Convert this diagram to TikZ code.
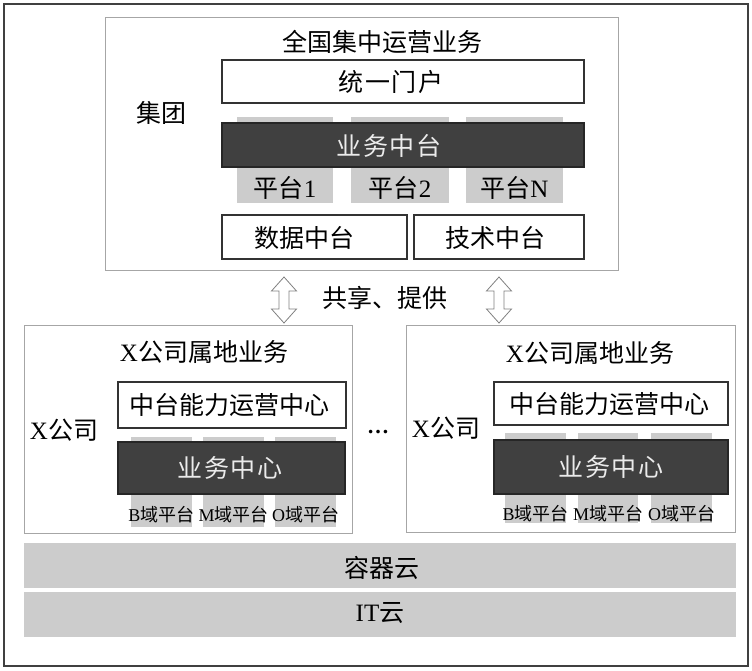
\documentclass[tikz,border=0pt]{standalone}
\usepackage{fontspec}
\usetikzlibrary{calc}
\setmainfont{Liberation Serif}
\newfontfamily\cjk{Noto Sans CJK SC}
\newfontfamily\cjksp[LetterSpace=6]{Noto Sans CJK SC}
\newcommand\lat[1]{{\rmfamily #1}}
\begin{document}
\begin{tikzpicture}[x=1pt,y=-1pt,
 outerframe/.style={draw=black!75, line width=2pt},
 frame/.style={draw=black!35, line width=1pt, fill=white},
 wbox/.style={draw=black!80, line width=1.2pt, fill=white},
 dbox/.style={draw=black!85, line width=1.3pt, fill=black!75},
 gblock/.style={fill=black!20},
 lbl/.style={font=\cjk\fontsize{25}{29}\selectfont, inner sep=0},
 wlbl/.style={font=\cjksp\fontsize{25}{29}\selectfont, inner sep=0, text=white!92!black},
 small/.style={font=\cjk\fontsize{18}{21}\selectfont, inner sep=0},
 arr/.style={draw=black!50, line width=0.8pt, fill=white}]
\path[use as bounding box] (0,0) rectangle (752,671);
\draw[outerframe] (4,4) rectangle (748,666);

% ---------- top box ----------
\draw[frame] (105,18) rectangle (618,270);
\node[lbl] (ttitle) at (382,42) {全国集中运营业务};
\node[lbl] (jt) at (161,113) {集团};
\draw[wbox] (222,60) rectangle (584,103);
\node[wlbl, text=black] (portal) at (391,82) {统一门户};
\foreach \xa/\xb/\nm/\t in {237/333/p1/{平台\lat{1}}, 351/449/p2/{平台\lat{2}}, 466/563/pn/{平台\lat{N}}}{
  \fill[gblock] (\xa,117) rectangle (\xb,203);
  \node[lbl] (\nm) at ({(\xa+\xb)/2},188) {\t};
}
\draw[dbox] (222,123) rectangle (584,167);
\node[wlbl] (ywzt) at (389,146) {业务中台};
\draw[wbox] (222,215) rectangle (407,259);
\node[lbl] (sjzt) at (304,238) {数据中台};
\draw[wbox] (414,215) rectangle (584,259);
\node[lbl] (jszt) at (495,238) {技术中台};

% ---------- arrows ----------
\coordinate (a1) at (284,300);
\coordinate (a2) at (499,300);
\foreach \c in {a1,a2}{
  \draw[arr] ($(\c)+(0,-23)$) -- ++(12.5,14) -- ++(-7.5,0) -- ++(0,18) -- ++(7.5,0)
    -- ($(\c)+(0,23)$) -- ++(-12.5,-14) -- ++(7.5,0) -- ++(0,-18) -- ++(-7.5,0) -- cycle;
}
\node[lbl] (share) at (385,298) {共享、提供};

% ---------- left company ----------
\draw[frame] (24,325) rectangle (352,533);
\node[lbl] (ltitle) at (204,352) {\lat{X}公司属地业务};
\node[lbl] (lx) at (64,430) {\lat{X}公司};
\draw[wbox] (118,382) rectangle (346,428);
\node[lbl] (lcenter) at (229,405) {中台能力运营中心};
\foreach \xa/\xb/\nm/\t in {131/192/lb/{\lat{B}域平台}, 203/264/lm/{\lat{M}域平台}, 275/336/lo/{\lat{O}域平台}}{
  \fill[gblock] (\xa,437) rectangle (\xb,527);
  \node[small] (\nm) at ({(\xa+\xb)/2},515) {\t};
}
\draw[dbox] (118,442) rectangle (345,494);
\node[wlbl] (lyw) at (230,468) {业务中心};

\node[font=\rmfamily\bfseries\fontsize{22}{26}\selectfont, inner sep=0] (dots) at (378,432) {…};

% ---------- right company ----------
\draw[frame] (406,325) rectangle (735,532);
\node[lbl] (rtitle) at (590,353) {\lat{X}公司属地业务};
\node[lbl] (rx) at (446,428) {\lat{X}公司};
\draw[wbox] (494,382) rectangle (728,425);
\node[lbl] (rcenter) at (609,404) {中台能力运营中心};
\foreach \xa/\xb/\nm/\t in {505/566/rb/{\lat{B}域平台}, 578/638/rm/{\lat{M}域平台}, 651/712/ro/{\lat{O}域平台}}{
  \fill[gblock] (\xa,433) rectangle (\xb,523);
  \node[small] (\nm) at ({(\xa+\xb)/2},514) {\t};
}
\draw[dbox] (494,440) rectangle (728,494);
\node[wlbl] (ryw) at (611,467) {业务中心};

% ---------- bottom bars ----------
\fill[gblock] (24,543) rectangle (736,588);
\node[lbl] (rqy) at (382,568) {容器云};
\fill[gblock] (24,592) rectangle (736,637);
\node[lbl] (ity) at (380,613) {\lat{IT}云};
\end{tikzpicture}
\end{document}
